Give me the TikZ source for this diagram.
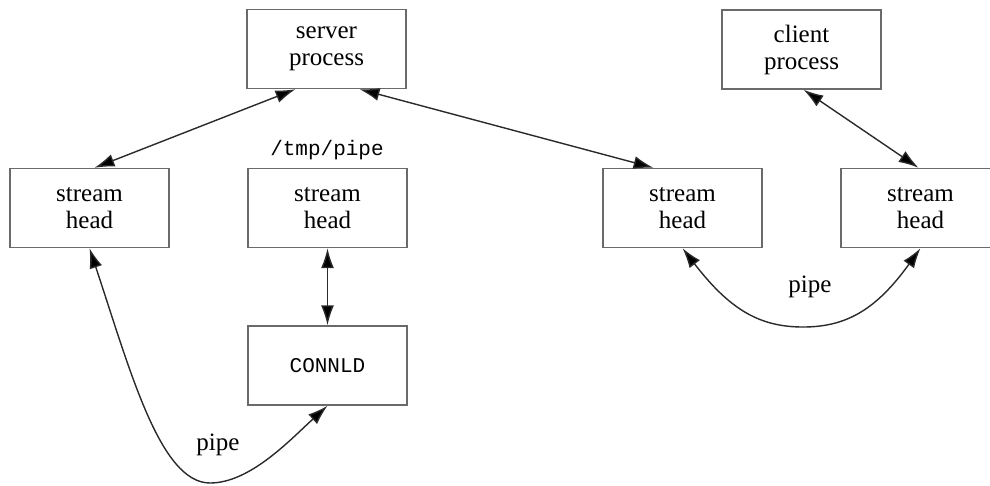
\documentclass[tikz,border=0pt]{standalone}
\usepackage{fontspec}
\setmainfont{Liberation Serif}
\setmonofont{Liberation Mono}
\usetikzlibrary{arrows.meta,calc}
\definecolor{boxline}{HTML}{6A6A6A}
\definecolor{conn}{HTML}{2A2A2A}
\tikzset{
  tipA/.tip={Latex[length=20pt,width=13pt,fill=black]},
  box/.style={draw=boxline,line width=1.4pt,minimum width=159pt,minimum height=79pt,inner sep=0pt,
    align=center,font=\fontsize{25}{27}\selectfont},
  conn/.style={draw=conn,line width=1.4pt,arrows={tipA-tipA}},
  lbl/.style={font=\fontsize{25}{27}\selectfont,inner sep=0pt},
  mono/.style={font=\fontsize{21}{25}\ttfamily,inner sep=0pt}}
\begin{document}
\begin{tikzpicture}[x=1pt,y=-1pt]
\useasboundingbox (0,0) rectangle (990,485);
\node[box] (server) at (326.5,49) {server\\process};
\node[box] (client) at (801.5,49.5) {client\\process};
\node[box] (sh1) at (89.5,208) {stream\\head};
\node[box] (sh2) at (327.5,208) {stream\\head};
\node[box] (sh3) at (682.5,208) {stream\\head};
\node[box] (sh4) at (920.5,208) {stream\\head};
\node[box] (connld) at (327.5,365.5) {\fontsize{21}{25}\ttfamily CONNLD};
\node[mono] (tmp) at (327,150) {/tmp/pipe};
\node[lbl] (pipe1) at (218,445) {pipe};
\node[lbl] (pipe2) at (810,287) {pipe};
\coordinate (sA) at ($(server.south)+(-31,0)$);
\coordinate (sB) at ($(server.south)+(33,0)$);
\coordinate (h1) at ($(sh1.north)+(5,0)$);
\coordinate (h3) at ($(sh3.north)+(-29,0)$);
\coordinate (cB) at ($(client.south)+(2,0)$);
\coordinate (h4) at ($(sh4.north)+(-2,0)$);
\draw[conn] (sA) -- (h1);
\draw[conn] (sB) -- (h3);
\draw[conn] (cB) -- (h4);
\draw[conn] (sh2.south) -- (connld.north);
\draw[conn] (sh1.south) .. controls (130,370) and (160,483) .. (210,483)
  .. controls (250,483) and (290,440) .. (connld.south);
\draw[conn] (sh3.south) .. controls (730,310) and (760,327) .. (803,327)
  .. controls (846,327) and (876,310) .. (sh4.south);
\end{tikzpicture}
\end{document}
